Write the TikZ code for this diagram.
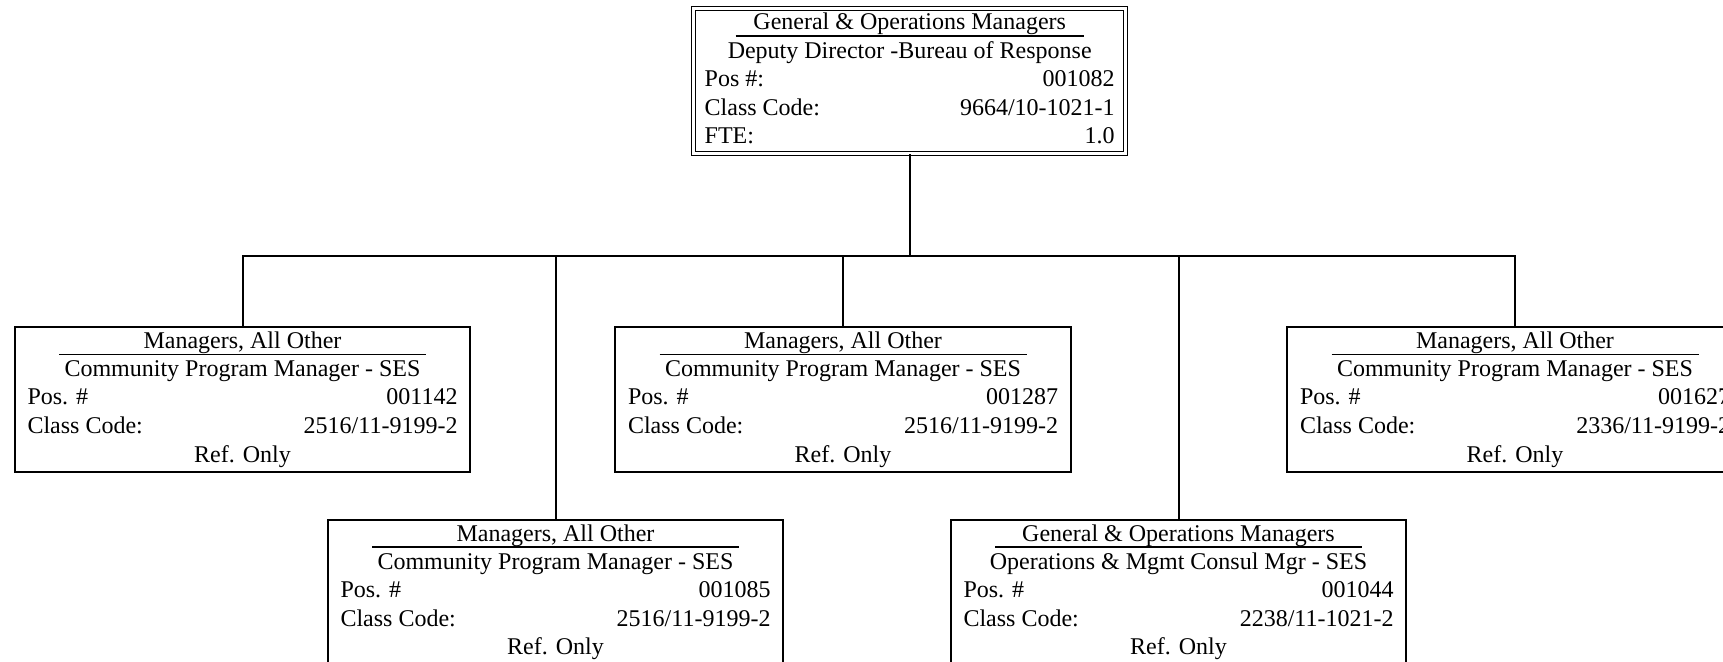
\documentclass[tikz,border=0pt]{standalone}
\usepackage{fontspec}
\setmainfont{Liberation Serif}
\usepackage{array}

% rule drawn over the subtitle of a card
\newcommand\ruledsub[2]{\setbox0=\hbox{#2}\hbox to \wd0{\hss\smash{\rule[10.6pt]{#1}{0.75pt}}\hss}\kern-\wd0\box0}
% title, subtitle, pos, class code
\newcommand\refcard[4]{%
  \begin{tabular*}{215pt}{@{}l@{\extracolsep{\fill}}r@{}}
  \multicolumn{2}{c}{#1}\\[-0.3pt]
  \multicolumn{2}{c}{\ruledsub{183.5pt}{#2}}\\
  Pos. \# & #3\\
  Class Code: & #4\\
  \multicolumn{2}{c}{Ref. Only}
  \end{tabular*}}

\begin{document}
\begin{tikzpicture}[x=0.5pt, y=-0.5pt,
  box/.style={draw, line width=1pt, inner sep=0pt, minimum width=227.75pt,
              minimum height=72.2pt, font=\fontsize{12}{14.3}\selectfont},
  topbox/.style={box, double, line width=0.75pt, double distance=1.25pt,
                 minimum width=216pt, minimum height=72.5pt},
  link/.style={line width=1pt}]
  \useasboundingbox (0,0) rectangle (1723,662);
  \clip (0,0) rectangle (1723,662);
  \node[topbox] (dir) at (909.7,81) {%
    \begin{tabular*}{205pt}{@{}l@{\extracolsep{\fill}}r@{}}
    \multicolumn{2}{c}{General \& Operations Managers}\\
    \multicolumn{2}{c}{\ruledsub{174pt}{Deputy Director -Bureau of Response}}\\
    Pos \#: & 001082\\
    Class Code: & 9664/10-1021-1\\
    FTE: & 1.0
    \end{tabular*}};
  \node[box] (cpm1) at (242.5,399.5)
    {\refcard{Managers, All Other}{Community Program Manager - SES}{001142}{2516/11-9199-2}};
  \node[box] (cpm3) at (843,399.5)
    {\refcard{Managers, All Other}{Community Program Manager - SES}{001287}{2516/11-9199-2}};
  \node[box] (cpm5) at (1515,399.5)
    {\refcard{Managers, All Other}{Community Program Manager - SES}{001627}{2336/11-9199-2}};
  \node[box] (cpm2) at (555.5,592.2)
    {\refcard{Managers, All Other}{Community Program Manager - SES}{001085}{2516/11-9199-2}};
  \node[box] (ops) at (1178.5,592.2)
    {\refcard{General \& Operations Managers}{Operations \& Mgmt Consul Mgr - SES}{001044}{2238/11-1021-2}};
  \coordinate (bus) at (dir.south |- 0,256);
  \draw[link] (dir.south) -- (bus);
  \draw[link] (bus) -| (cpm1.north);
  \draw[link] (bus) -| (cpm2.north);
  \draw[link] (bus) -| (cpm3.north);
  \draw[link] (bus) -| (ops.north);
  \draw[link] (bus) -| (cpm5.north);
\end{tikzpicture}
\end{document}
